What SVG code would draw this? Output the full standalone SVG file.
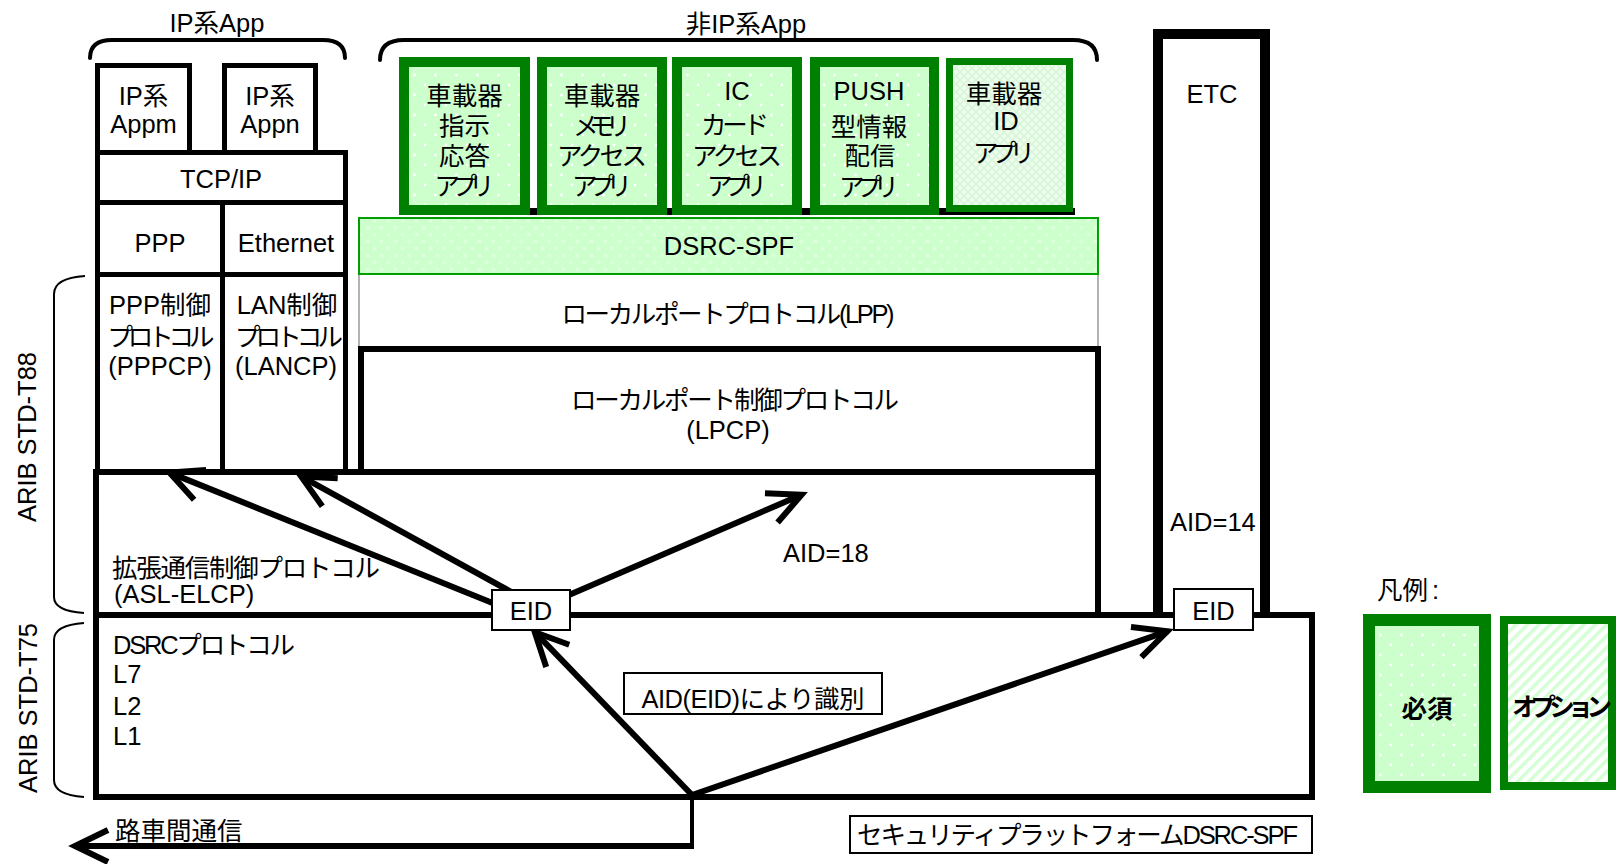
<svg xmlns="http://www.w3.org/2000/svg" width="1620" height="864" viewBox="0 0 1620 864">
<style>
text{font-family:"Liberation Sans","Noto Sans CJK JP",sans-serif;font-size:25.5px;fill:#000}
.m{text-anchor:middle}
.b{font-weight:bold}
.box{fill:#fff;stroke:#000;stroke-width:5}
.thick{fill:#fff;stroke:#000;stroke-width:6}
.thin{fill:#fff;stroke:#000;stroke-width:2}
.req{fill:url(#dotsA);stroke:#008000;stroke-width:10}
.opt{fill:url(#hatch);stroke:#008000;stroke-width:7}
.br{fill:none;stroke:#000;stroke-width:4;stroke-linecap:round}
.br2{fill:none;stroke:#000;stroke-width:2}
.arr{fill:none;stroke:#000;stroke-width:6;marker-end:url(#ah)}
</style>
<defs>
<pattern id="dotsA" patternUnits="userSpaceOnUse" width="21" height="20">
<rect width="21" height="20" fill="#ccffcc"/>
<circle cx="5" cy="5" r="1.4" fill="#ffffff"/>
<circle cx="15.5" cy="15" r="1.4" fill="#ffffff"/>
</pattern>
<pattern id="dotsB" patternUnits="userSpaceOnUse" width="14" height="14">
<rect width="14" height="14" fill="#ccffcc"/>
<circle cx="3.5" cy="3.5" r="2" fill="#dcffdc"/>
<circle cx="10.5" cy="10.5" r="2" fill="#dcffdc"/>
</pattern>
<pattern id="stripes" patternUnits="userSpaceOnUse" width="8" height="8" patternTransform="rotate(45)">
<rect width="8" height="8" fill="#ffffff"/>
<rect width="3.5" height="8" fill="#d4ffd4"/>
</pattern>
<pattern id="hatch" patternUnits="userSpaceOnUse" width="8" height="8">
<rect width="8" height="8" fill="#eefcee"/>
<path d="M0,8 L8,0 M0,0 L8,8" stroke="#d6f5d6" stroke-width="1.5"/>
</pattern>
<marker id="ah" markerUnits="userSpaceOnUse" orient="auto" markerWidth="80" markerHeight="80" viewBox="-40 -40 80 80" refX="0" refY="0" overflow="visible">
<path d="M-33,-16 L0,0 L-33,16" fill="none" stroke="#000" stroke-width="6" stroke-linejoin="miter" stroke-miterlimit="10"/>
</marker>
</defs>
<rect width="1620" height="864" fill="#fff"/>

<g id="ip-app-label">
<path class="br" d="M90,58 Q90,40 112,40 L323,40 Q345,40 345,58"/>
<text class="m" x="217" y="32">IP系App</text>
</g>
<g id="nonip-app-label">
<path class="br" d="M380,60 Q380,40 404,40 L1073,40 Q1097,40 1097,60"/>
<text class="m" x="746" y="33">非IP系App</text>
</g>

<g id="ip-appm"><rect class="box" x="97.5" y="65.5" width="92" height="87"/>
<text class="m" x="143.5" y="105">IP系</text><text class="m" x="143.5" y="133">Appm</text></g>
<g id="ip-appn"><rect class="box" x="224.5" y="65.5" width="91" height="87"/>
<text class="m" x="270" y="105">IP系</text><text class="m" x="270" y="133">Appn</text></g>
<g id="tcpip"><rect class="box" x="97.5" y="152.5" width="248" height="50"/>
<text class="m" x="221" y="188">TCP/IP</text></g>
<g id="ppp"><rect class="box" x="97.5" y="202.5" width="125" height="72"/>
<text class="m" x="160" y="252">PPP</text></g>
<g id="ethernet"><rect class="box" x="222.5" y="202.5" width="123" height="72"/>
<text class="m" x="286" y="252">Ethernet</text></g>
<g id="pppcp"><rect class="box" x="97.5" y="274.5" width="125" height="198"/>
<text class="m" x="160" y="314">PPP制御</text>
<text class="m" x="161" y="346" textLength="107">プロトコル</text>
<text class="m" x="160" y="375">(PPPCP)</text></g>
<g id="lancp"><rect class="box" x="222.5" y="274.5" width="123" height="198"/>
<text class="m" x="287" y="314">LAN制御</text>
<text class="m" x="289" y="346" textLength="108">プロトコル</text>
<text class="m" x="286" y="375">(LANCP)</text></g>

<g id="spf-underbar"><rect x="399" y="208" width="676" height="7" fill="#000"/></g>

<g id="app-shiji"><rect class="req" x="404" y="62" width="121" height="148"/>
<text class="m" x="464.5" y="105">車載器</text><text class="m" x="464.5" y="135">指示</text>
<text class="m" x="464.5" y="165">応答</text><text class="m" x="464.5" y="195" textLength="60">アプリ</text></g>
<g id="app-memory"><rect class="req" x="542" y="62" width="120" height="148"/>
<text class="m" x="602" y="105">車載器</text><text class="m" x="602" y="135" textLength="58">メモリ</text>
<text class="m" x="602" y="165" textLength="90">アクセス</text><text class="m" x="602" y="195" textLength="60">アプリ</text></g>
<g id="app-iccard"><rect class="req" x="677" y="62" width="120" height="148"/>
<text class="m" x="737" y="100">IC</text><text class="m" x="735" y="134" textLength="68">カード</text>
<text class="m" x="737" y="165" textLength="90">アクセス</text><text class="m" x="737" y="195" textLength="60">アプリ</text></g>
<g id="app-push"><rect class="req" x="815" y="62" width="119" height="148"/>
<text class="m" x="869" y="100">PUSH</text><text class="m" x="869" y="136">型情報</text>
<text class="m" x="870" y="165">配信</text><text class="m" x="869" y="196" textLength="60">アプリ</text></g>
<g id="app-id"><rect class="opt" x="949.5" y="61.5" width="120" height="147"/>
<text class="m" x="1004" y="103">車載器</text><text class="m" x="1006" y="130">ID</text>
<text class="m" x="1004" y="162" textLength="62">アプリ</text></g>

<g id="lpp"><rect x="359" y="274" width="739" height="75" fill="#fff" stroke="#999" stroke-width="1.5"/>
<text class="m" x="728" y="323" textLength="333">ローカルポートプロトコル(LPP)</text></g>
<g id="dsrc-spf"><rect x="359" y="218" width="739" height="56" fill="url(#dotsB)" stroke="#00a000" stroke-width="2"/>
<text class="m" x="729" y="255">DSRC-SPF</text></g>
<g id="lpcp"><rect class="thick" x="361" y="349" width="737" height="123"/>
<text class="m" x="735" y="409" textLength="328">ローカルポート制御プロトコル</text>
<text class="m" x="728" y="439">(LPCP)</text></g>

<g id="asl-elcp"><rect class="thick" x="96" y="472" width="1002" height="143"/>
<text x="112" y="577" textLength="268">拡張通信制御プロトコル</text>
<text x="114" y="603">(ASL-ELCP)</text></g>

<g id="etc"><path d="M1158,615 V34 H1265 V615" fill="#fff" stroke="#000" stroke-width="10"/>
<text class="m" x="1212" y="103">ETC</text></g>

<g id="dsrc-protocol"><rect class="thick" x="96" y="615" width="1216" height="182"/>
<text x="113" y="654" textLength="182">DSRCプロトコル</text>
<text x="113" y="683">L7</text><text x="113" y="715">L2</text><text x="113" y="745">L1</text></g>

<g id="arib-t88"><path class="br2" d="M85,276 Q54,278 54,294 L54,597 Q54,611 84,613"/>
<text class="m" font-size="26" transform="translate(36,437) rotate(-90)">ARIB STD-T88</text></g>
<g id="arib-t75"><path class="br2" d="M84,623 Q54,625 54,640 L54,780 Q54,795 84,797"/>
<text class="m" font-size="26" transform="translate(37,708) rotate(-90)">ARIB STD-T75</text></g>

<g id="connectors">
<line class="arr" x1="500" y1="606" x2="169.5" y2="472.6"/>
<line class="arr" x1="515" y1="594" x2="301.1" y2="476.4"/>
<line class="arr" x1="555" y1="601" x2="801.6" y2="494.8"/>
<line class="arr" x1="692" y1="795" x2="534.8" y2="632.1"/>
<line class="arr" x1="692" y1="795" x2="1167.4" y2="631.3"/>
<line x1="692" y1="795" x2="692" y2="849" stroke="#000" stroke-width="4"/>
<line class="arr" x1="694" y1="846" x2="75" y2="846"/>
<text x="783" y="562" font-size="26">AID=18</text>
<text x="1170" y="531" font-size="26">AID=14</text>
<text x="115" y="840">路車間通信</text>
</g>

<g id="eid-1"><rect class="thin" x="492" y="590" width="78" height="40"/>
<text class="m" x="531" y="620">EID</text></g>
<g id="eid-2"><rect class="thin" x="1174" y="589" width="79" height="41"/>
<text class="m" x="1213.5" y="620">EID</text></g>
<g id="aid-label"><rect class="thin" x="624" y="673" width="258" height="41"/>
<text class="m" x="753" y="708" textLength="223">AID(EID)により識別</text></g>
<g id="spf-label"><rect class="thin" x="850" y="816" width="462" height="37"/>
<text x="857" y="844" textLength="441">セキュリティプラットフォームDSRC-SPF</text></g>

<g id="legend">
<text x="1377" y="599" font-size="32">凡例<tspan dx="4">:</tspan></text>
<g id="legend-required"><rect x="1369" y="620" width="116" height="167" fill="url(#dotsA)" stroke="#008000" stroke-width="12"/>
<text class="m b" x="1427" y="718" font-size="22">必須</text></g>
<g id="legend-optional"><rect x="1504" y="620" width="108" height="166" fill="url(#stripes)" stroke="#008000" stroke-width="8"/>
<text class="m b" x="1562" y="716" font-size="21" textLength="100">オプション</text></g>
</g>
</svg>
